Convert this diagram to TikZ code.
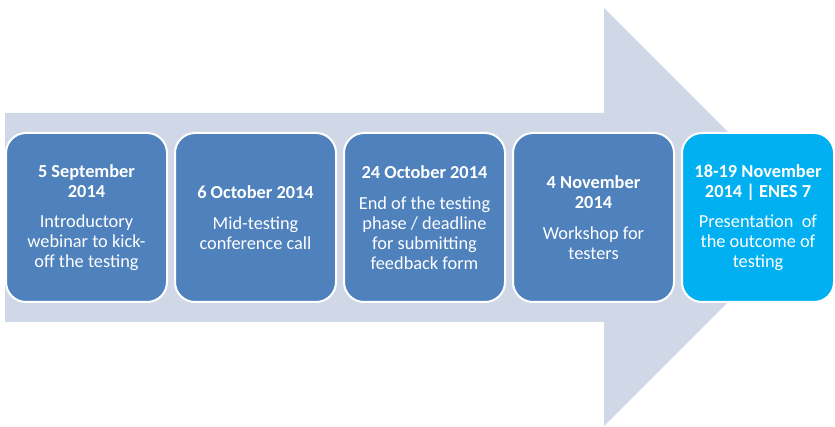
\documentclass[tikz,border=0pt]{standalone}
\usepackage{fontspec}
\setmainfont{Carlito}
\usetikzlibrary{positioning}
\definecolor{shaftgrey}{HTML}{D0D8E8}
\definecolor{boxblue}{HTML}{4F81BD}
\definecolor{boxcyan}{HTML}{00B0F0}

\begin{document}
\begin{tikzpicture}[x=0.75pt, y=-0.75pt,
  milestone/.style={rectangle, rounded corners=15pt, draw=white, line width=1.5pt, fill=boxblue, text=white, minimum width=120.75pt, minimum height=126.75pt, inner sep=0pt, align=center, font=\fontsize{13.75}{15}\selectfont}]

\useasboundingbox (0,0) rectangle (835,427);

% big arrow behind the boxes
\fill[shaftgrey] (5,113) -- (604,113) -- (604,8) -- (813,217) -- (604,426) -- (604,322) -- (5,322) -- cycle;

\node[milestone] (m1) at (86.5,217.5) {\textbf{5 September}\\ \textbf{2014}\\[8pt] Introductory\\ webinar to kick-\\ off the testing};

\node[milestone, right=4.5pt of m1] (m2) {\textbf{6 October 2014}\\[8pt] Mid-testing\\ conference call};

\node[milestone, right=4.5pt of m2] (m3) {\textbf{24 October 2014}\\[8pt] End of the testing\\ phase / deadline\\ for submitting\\ feedback form};

\node[milestone, right=4.5pt of m3] (m4) {\textbf{4 November}\\ \textbf{2014}\\[8pt] Workshop for\\ testers};

\node[milestone, fill=boxcyan, minimum width=114pt, right=4.5pt of m4] (m5) {\textbf{18-19 November}\\ \textbf{2014 | ENES 7}\\[8pt] Presentation~ of\\ the outcome of\\ testing};

\end{tikzpicture}
\end{document}
